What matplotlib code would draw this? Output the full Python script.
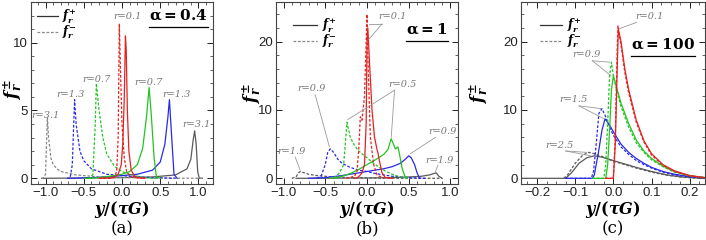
import matplotlib
matplotlib.use("Agg")
import matplotlib.pyplot as plt
from matplotlib.ticker import MultipleLocator

plt.rcParams['mathtext.fontset'] = 'custom'
plt.rcParams['mathtext.it'] = 'DejaVu Serif:italic:bold'
plt.rcParams['mathtext.rm'] = 'DejaVu Serif:bold'
plt.rcParams['mathtext.bf'] = 'DejaVu Serif:bold'
plt.rcParams['font.family'] = ['Liberation Sans', 'DejaVu Sans']

RED, GREEN, BLUE, GRAY = '#e52222', '#22c422', '#2a2ae6', '#5a5a5a'

# ---------------- panel (a): alpha = 0.4 ----------------
a_r01_p_x = [-0.3, -0.1, -0.05, -0.01, 0.01, 0.03, 0.045, 0.055, 0.07, 0.09, 0.12, 0.16, 0.2, 0.3]
a_r01_p_y = [0, 0.05, 0.3, 1.0, 2.5, 6, 10.5, 9.5, 5, 2, 0.6, 0.2, 0.05, 0]
a_r01_m_x = [-0.3, -0.15, -0.1, -0.07, -0.05, -0.035, -0.02, 0, 0.03, 0.06, 0.1, 0.15, 0.3]
a_r01_m_y = [0, 0, 0.1, 0.5, 3, 11.4, 8, 4, 1.5, 0.5, 0.2, 0.05, 0]
a_r07_p_x = [-0.45, -0.3, -0.1, 0, 0.1, 0.2, 0.27, 0.32, 0.355, 0.385, 0.42, 0.45, 0.5]
a_r07_p_y = [0, 0.05, 0.2, 0.3, 0.5, 1.0, 2.2, 4.5, 6.7, 4.5, 1.5, 0.1, 0]
a_r07_m_x = [-0.5, -0.42, -0.38, -0.35, -0.335, -0.3, -0.25, -0.2, -0.1, 0, 0.1, 0.2, 0.3, 0.45]
a_r07_m_y = [0, 0, 0.3, 4, 7.0, 5.0, 3.0, 1.8, 0.9, 0.5, 0.3, 0.15, 0.05, 0]
a_r13_p_x = [-0.7, -0.4, -0.2, 0, 0.2, 0.4, 0.5, 0.56, 0.6, 0.62, 0.65, 0.68, 0.72]
a_r13_p_y = [0, 0.05, 0.1, 0.2, 0.3, 0.6, 1.2, 2.5, 4.5, 5.8, 3, 0.3, 0]
a_r13_m_x = [-0.72, -0.68, -0.65, -0.62, -0.6, -0.55, -0.5, -0.4, -0.2, 0, 0.2, 0.4, 0.7]
a_r13_m_y = [0, 0, 1, 5.8, 4.0, 2.0, 1.3, 0.7, 0.3, 0.2, 0.1, 0.05, 0]
a_r31_p_x = [-1.05, -0.5, 0, 0.4, 0.7, 0.85, 0.9, 0.93, 0.95, 0.97, 0.99, 1.01, 1.05]
a_r31_p_y = [0, 0.02, 0.05, 0.1, 0.25, 0.7, 1.4, 2.8, 3.5, 2.5, 0.5, 0, 0]
a_r31_m_x = [-1.05, -1.03, -1.0, -0.985, -0.975, -0.96, -0.93, -0.9, -0.85, -0.8, -0.6, -0.3, 0, 0.5, 1.05]
a_r31_m_y = [0, 0, 0.3, 3, 4.5, 3.0, 1.5, 1.0, 0.7, 0.5, 0.25, 0.1, 0.05, 0.02, 0]

# ---------------- panel (b): alpha = 1 ----------------
b_r01_p_x = [-0.15, -0.1, -0.06, -0.03, -0.01, 0.0, 0.01, 0.03, 0.06, 0.09, 0.12, 0.13, 0.15, 0.18, 0.22, 0.3]
b_r01_p_y = [0, 0.2, 0.8, 2, 8, 20, 22, 17, 10, 6, 4.2, 3.8, 2.5, 0.8, 0.1, 0]
b_r01_m_x = [-0.25, -0.15, -0.12, -0.1, -0.08, -0.06, -0.03, -0.01, 0.0, 0.01, 0.04, 0.08, 0.12, 0.2]
b_r01_m_y = [0, 0.3, 1, 4, 9, 8.5, 12, 20, 24, 18, 6, 2, 0.5, 0]
b_r05_p_x = [-0.4, -0.3, -0.2, -0.1, 0, 0.1, 0.2, 0.25, 0.29, 0.31, 0.34, 0.37, 0.39, 0.42, 0.45, 0.48]
b_r05_p_y = [0, 0.3, 0.7, 1.3, 2.0, 2.7, 3.5, 4.2, 5.8, 5.2, 4.3, 4.6, 3.5, 1.5, 0.4, 0]
b_r05_m_x = [-0.45, -0.38, -0.33, -0.28, -0.26, -0.24, -0.2, -0.15, -0.1, 0, 0.1, 0.2, 0.3, 0.4, 0.5]
b_r05_m_y = [0, 0.2, 0.8, 2.0, 5, 8.2, 6, 4.8, 4, 3, 2, 1.2, 0.6, 0.2, 0]
b_r09_p_x = [-0.7, -0.5, -0.3, -0.1, 0, 0.1, 0.2, 0.3, 0.4, 0.46, 0.5, 0.53, 0.57, 0.6, 0.63]
b_r09_p_y = [0, 0.1, 0.4, 0.8, 1, 1.2, 1.4, 1.7, 2.2, 2.8, 3.3, 3.0, 2.0, 0.8, 0]
b_r09_m_x = [-0.6, -0.55, -0.5, -0.47, -0.44, -0.4, -0.35, -0.3, -0.2, -0.1, 0, 0.1, 0.2, 0.3, 0.5, 0.7]
b_r09_m_y = [0, 0.3, 2.0, 3.8, 4.3, 3.8, 2.8, 2.2, 1.6, 1.2, 1, 0.7, 0.5, 0.3, 0.1, 0]
b_r19_p_x = [-0.85, -0.5, 0, 0.3, 0.5, 0.65, 0.75, 0.8, 0.83, 0.86, 0.9]
b_r19_p_y = [0, 0.02, 0.05, 0.1, 0.2, 0.3, 0.5, 0.7, 0.8, 0.3, 0]
b_r19_m_x = [-0.9, -0.85, -0.82, -0.8, -0.75, -0.7, -0.6, -0.4, -0.2, 0, 0.3, 0.6, 0.9]
b_r19_m_y = [0, 0.2, 0.8, 1.0, 0.8, 0.6, 0.4, 0.2, 0.1, 0.05, 0.02, 0.01, 0]

# ---------------- panel (c): alpha = 100 ----------------
c_r01_p_x = [-0.02, 0.0, 0.005, 0.01, 0.013, 0.02, 0.03, 0.04, 0.06, 0.08, 0.1, 0.13, 0.16, 0.2, 0.24]
c_r01_p_y = [0, 0, 5, 16, 21.8, 20, 16, 13, 8.5, 5.5, 3.6, 2.0, 1.1, 0.4, 0.1]
c_r01_m_x = [-0.02, 0.0, 0.005, 0.01, 0.012, 0.02, 0.03, 0.04, 0.06, 0.08, 0.1, 0.13, 0.16, 0.2, 0.24]
c_r01_m_y = [0, 0, 6, 19, 22.3, 19.5, 15.5, 12.5, 8.2, 5.3, 3.4, 1.9, 1.0, 0.35, 0.08]
c_r09_p_x = [-0.055, -0.02, -0.015, -0.01, -0.005, 0.0, 0.01, 0.02, 0.04, 0.06, 0.08, 0.1, 0.13, 0.16, 0.2, 0.24]
c_r09_p_y = [0, 0, 2, 7, 13, 15, 13, 11, 8, 5.6, 4, 2.9, 1.8, 1.0, 0.4, 0.1]
c_r09_m_x = [-0.055, -0.025, -0.02, -0.015, -0.01, -0.005, 0.0, 0.01, 0.02, 0.04, 0.06, 0.08, 0.1, 0.13, 0.16, 0.2, 0.24]
c_r09_m_y = [0, 0, 2, 8, 15, 17, 15, 12.5, 10.5, 7.5, 5.2, 3.8, 2.7, 1.7, 0.9, 0.35, 0.1]
c_r15_p_x = [-0.125, -0.055, -0.05, -0.04, -0.03, -0.022, -0.01, 0.0, 0.02, 0.04, 0.06, 0.08, 0.1, 0.13, 0.16, 0.2, 0.24]
c_r15_p_y = [0, 0, 0.5, 3.5, 7, 8.7, 7.8, 6.8, 5, 3.8, 2.9, 2.2, 1.6, 1.0, 0.6, 0.25, 0.1]
c_r15_m_x = [-0.125, -0.058, -0.052, -0.045, -0.038, -0.03, -0.02, -0.01, 0.0, 0.02, 0.04, 0.06, 0.08, 0.1, 0.13, 0.16, 0.2, 0.24]
c_r15_m_y = [0, 0, 1, 5, 9.5, 10.2, 9, 7.5, 6.3, 4.6, 3.5, 2.6, 2.0, 1.5, 0.9, 0.5, 0.2, 0.05]
c_r25_p_x = [-0.242, -0.125, -0.11, -0.09, -0.07, -0.05, -0.03, 0.0, 0.03, 0.06, 0.1, 0.14, 0.18, 0.22, 0.24]
c_r25_p_y = [0, 0, 0.8, 2.2, 3.0, 3.3, 3.1, 2.6, 2.1, 1.6, 1.0, 0.5, 0.2, 0.05, 0]
c_r25_m_x = [-0.13, -0.12, -0.1, -0.08, -0.065, -0.05, -0.03, 0.0, 0.03, 0.06, 0.1, 0.14, 0.18, 0.22, 0.24]
c_r25_m_y = [0, 0.5, 2.2, 3.4, 3.8, 3.6, 3.2, 2.5, 2.0, 1.5, 0.9, 0.45, 0.15, 0.03, 0]

alpha_labels = ['0.4', '1', '100']
panel_labels = ['(a)', '(b)', '(c)']

fig = plt.figure(figsize=(7.06, 2.4), dpi=100)
axA = fig.add_axes([31/706, 56/240, 182/706, 182/240])
axB = fig.add_axes([276/706, 56/240, 182/706, 182/240])
axC = fig.add_axes([521/706, 56/240, 184/706, 182/240])

LW = 0.9
DASH = (0, (2.2, 1.4))

def draw(ax, x, y, color, dashed):
    ax.plot(x, y, color=color, lw=LW, linestyle=DASH if dashed else '-')

draw(axA, a_r31_p_x, a_r31_p_y, GRAY, False)
draw(axA, a_r31_m_x, a_r31_m_y, '#888888', True)
draw(axA, a_r13_p_x, a_r13_p_y, BLUE, False)
draw(axA, a_r13_m_x, a_r13_m_y, BLUE, True)
draw(axA, a_r07_p_x, a_r07_p_y, GREEN, False)
draw(axA, a_r07_m_x, a_r07_m_y, GREEN, True)
draw(axA, a_r01_p_x, a_r01_p_y, RED, False)
draw(axA, a_r01_m_x, a_r01_m_y, RED, True)

draw(axB, b_r19_p_x, b_r19_p_y, GRAY, False)
draw(axB, b_r19_m_x, b_r19_m_y, GRAY, True)
draw(axB, b_r09_p_x, b_r09_p_y, BLUE, False)
draw(axB, b_r09_m_x, b_r09_m_y, BLUE, True)
draw(axB, b_r05_p_x, b_r05_p_y, GREEN, False)
draw(axB, b_r05_m_x, b_r05_m_y, GREEN, True)
draw(axB, b_r01_p_x, b_r01_p_y, RED, False)
draw(axB, b_r01_m_x, b_r01_m_y, RED, True)

draw(axC, c_r25_p_x, c_r25_p_y, GRAY, False)
draw(axC, c_r25_m_x, c_r25_m_y, GRAY, True)
draw(axC, c_r15_p_x, c_r15_p_y, BLUE, False)
draw(axC, c_r15_m_x, c_r15_m_y, BLUE, True)
draw(axC, c_r09_p_x, c_r09_p_y, GREEN, False)
draw(axC, c_r09_m_x, c_r09_m_y, GREEN, True)
draw(axC, c_r01_p_x, c_r01_p_y, RED, False)
draw(axC, c_r01_m_x, c_r01_m_y, RED, True)

# axes setup
axA.set_xlim(-1.19, 1.19); axA.set_ylim(-0.42, 13.0)
axB.set_xlim(-1.09, 1.09); axB.set_ylim(-0.83, 25.8)
axC.set_xlim(-0.242, 0.24); axC.set_ylim(-0.83, 25.8)
axA.xaxis.set_major_locator(MultipleLocator(0.5)); axA.xaxis.set_minor_locator(MultipleLocator(0.1))
axA.yaxis.set_major_locator(MultipleLocator(5)); axA.yaxis.set_minor_locator(MultipleLocator(1))
axB.xaxis.set_major_locator(MultipleLocator(0.5)); axB.xaxis.set_minor_locator(MultipleLocator(0.1))
axB.yaxis.set_major_locator(MultipleLocator(10)); axB.yaxis.set_minor_locator(MultipleLocator(2))
axC.xaxis.set_major_locator(MultipleLocator(0.1)); axC.xaxis.set_minor_locator(MultipleLocator(0.025))
axC.yaxis.set_major_locator(MultipleLocator(10)); axC.yaxis.set_minor_locator(MultipleLocator(2))

ylab_x = [-0.035, -0.065, -0.165]
ylab_y = [0.52, 0.5, 0.5]
alpha_pos = [(0.97, 0.905), (0.945, 0.825), (0.946, 0.745)]
leg_pos = [(0.033, 0.148, 0.17, 0.923, 0.835),
           (0.093, 0.225, 0.25, 0.874, 0.786),
           (0.103, 0.223, 0.25, 0.874, 0.786)]

for i, (ax, al, pl) in enumerate(zip([axA, axB, axC], alpha_labels, panel_labels)):
    ax.tick_params(which='both', direction='in', top=True, right=True, labelsize=9.5, pad=2, colors='#222222')
    ax.tick_params(which='major', length=4, width=0.7)
    ax.tick_params(which='minor', length=2, width=0.5)
    for s in ax.spines.values():
        s.set_linewidth(0.8); s.set_color('#444444')
    ax.set_xlabel(r'$y/(\tau G)$', fontsize=11.5, labelpad=0)
    ax.set_ylabel(r'$f_r^{\pm}$', fontsize=12)
    ax.yaxis.set_label_coords(ylab_x[i], ylab_y[i])
    ax.text(alpha_pos[i][0], alpha_pos[i][1], r'$\mathbf{\alpha = %s}$' % al, transform=ax.transAxes,
            ha='right', va='baseline', fontsize=11)
    ax.text(0.5, -0.245, pl, transform=ax.transAxes, ha='center', va='center',
            fontsize=12, family='DejaVu Serif')
    x0, x1, xt, y1, y2 = leg_pos[i]
    ax.plot([x0, x1], [y1, y1], transform=ax.transAxes, color='#333333', lw=LW)
    ax.plot([x0, x1], [y2, y2], transform=ax.transAxes, color='#888888', lw=LW, linestyle=DASH)
    ax.text(xt, y1, r'$f_r^{+}$', transform=ax.transAxes, ha='left', va='center', fontsize=8.5)
    ax.text(xt, y2, r'$f_r^{-}$', transform=ax.transAxes, ha='left', va='center', fontsize=8.5)

# underline alpha labels
fig.canvas.draw()
for ax in [axA, axB, axC]:
    for t in ax.texts:
        if 'alpha' in t.get_text():
            bb = t.get_window_extent().transformed(ax.transAxes.inverted())
            ax.plot([bb.x0, bb.x1], [bb.y0 - 0.025, bb.y0 - 0.025], transform=ax.transAxes,
                    color='black', lw=0.9, clip_on=False)

ann = dict(color='#777777', fontsize=7, style='italic', family='DejaVu Serif')
# (a) labels
axA.text(0.07, 11.9, 'r=0.1', ha='center', va='center', **ann)
axA.text(-0.33, 7.3, 'r=0.7', ha='center', va='center', **ann)
axA.text(0.35, 7.1, 'r=0.7', ha='center', va='center', **ann)
axA.text(-0.67, 6.2, 'r=1.3', ha='center', va='center', **ann)
axA.text(0.71, 6.2, 'r=1.3', ha='center', va='center', **ann)
axA.text(-1.0, 4.6, 'r=3.1', ha='center', va='center', **ann)
axA.text(0.97, 4.0, 'r=3.1', ha='center', va='center', **ann)

lp = dict(color='#999999', lw=0.6)
def leader(ax, txt, tx, ty, sx, sy, targets):
    ax.text(tx, ty, txt, ha='center', va='center', **ann)
    for px, py in targets:
        ax.plot([sx, px], [sy, py], **lp)

leader(axB, 'r=0.1', 0.3, 23.7, 0.18, 22.6, [(0.02, 22.6), (0.02, 20.3)])
leader(axB, 'r=0.5', 0.43, 13.8, 0.33, 12.9, [(-0.23, 8.6), (0.29, 6.0)])
leader(axB, 'r=0.9', -0.66, 13.2, -0.62, 12.2, [(-0.45, 4.6)])
leader(axB, 'r=0.9', 0.9, 6.8, 0.82, 6.0, [(0.52, 3.6)])
leader(axB, 'r=1.9', -0.9, 3.9, -0.86, 3.1, [(-0.8, 1.2)])
leader(axB, 'r=1.9', 0.87, 2.6, 0.85, 1.9, [(0.82, 1.0)])

leader(axC, 'r=0.1', 0.095, 23.7, 0.06, 22.8, [(0.016, 21.9)])
leader(axC, 'r=0.9', -0.07, 18.1, -0.055, 17.2, [(-0.01, 17.0), (-0.006, 15.0)])
leader(axC, 'r=1.5', -0.105, 11.6, -0.09, 10.6, [(-0.032, 10.2), (-0.024, 8.7)])
leader(axC, 'r=2.5', -0.14, 4.8, -0.125, 4.0, [(-0.07, 3.8), (-0.06, 3.3)])

fig.savefig('out.png', dpi=100)
